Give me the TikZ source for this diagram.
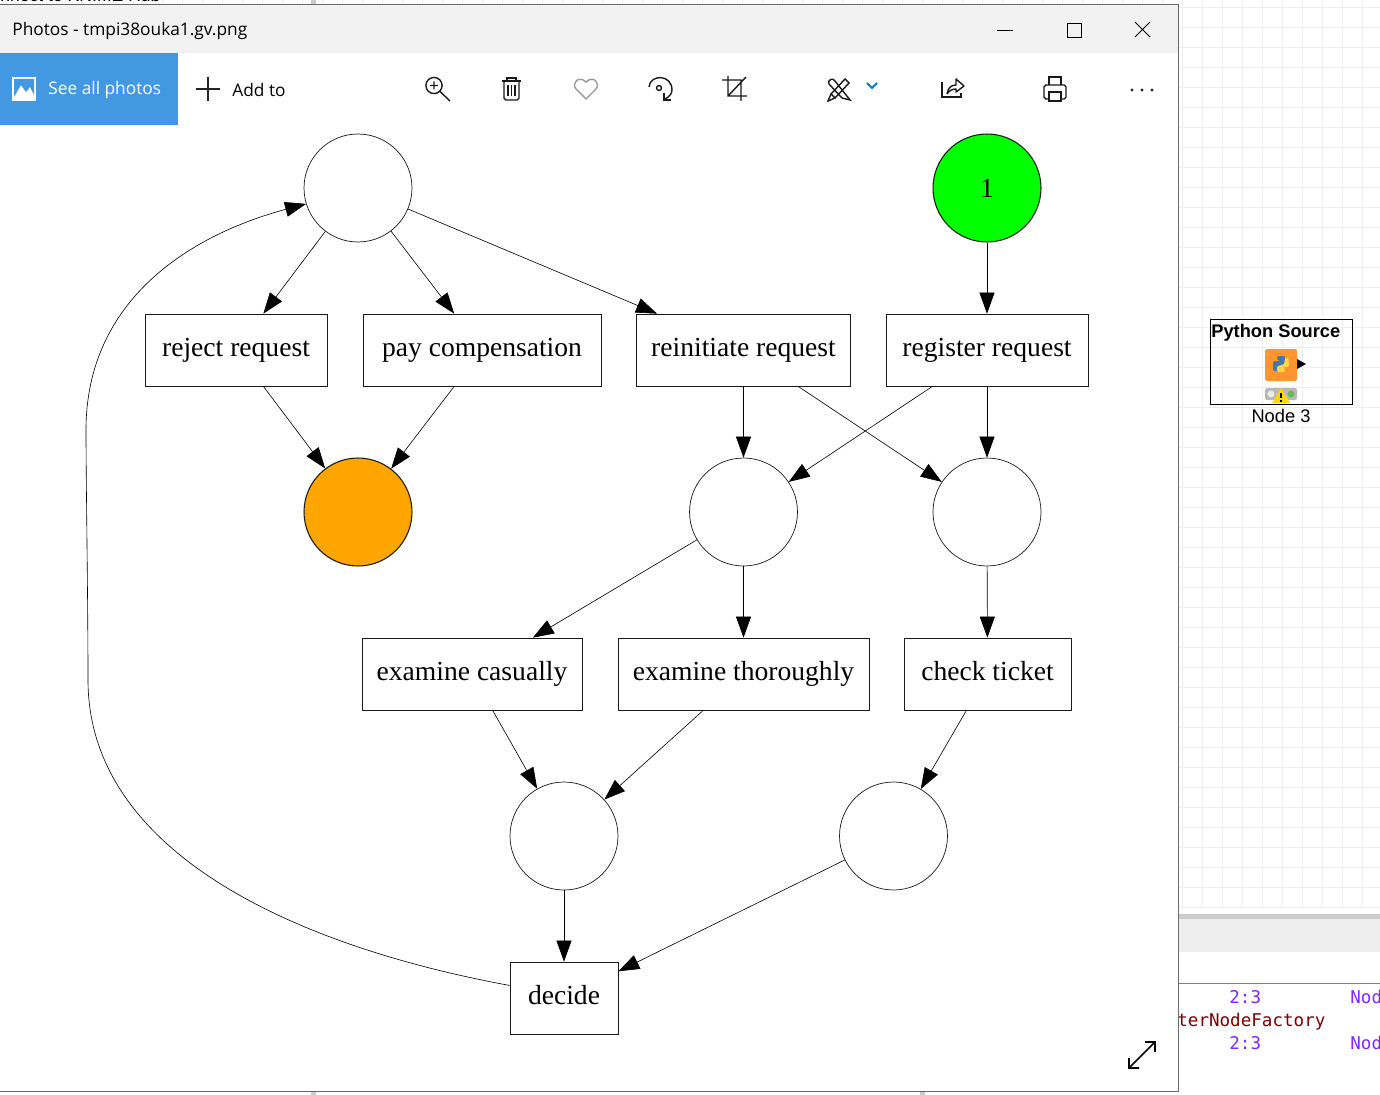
\documentclass[tikz,border=0pt]{standalone}
\usepackage{fontspec}
\setmainfont{Liberation Serif}
\newfontfamily\uifont{Open Sans}
\newfontfamily\knimefont{Liberation Sans}
\newfontfamily\logfont{DejaVu Sans Mono}
\usepackage{tikz}
\usetikzlibrary{arrows.meta,positioning}
\usepackage{xcolor}
\definecolor{photoblue}{RGB}{66,153,225}
\definecolor{titlegray}{RGB}{242,242,242}
\definecolor{framegray}{RGB}{105,105,105}
\definecolor{gridgray}{RGB}{238,238,238}
\definecolor{placeorange}{RGB}{255,165,0}
\definecolor{placegreen}{RGB}{0,255,0}
\definecolor{chevronblue}{RGB}{0,120,215}
\definecolor{iconorange}{RGB}{255,148,48}
\definecolor{pythonblue}{RGB}{62,122,175}
\definecolor{pythonyellow}{RGB}{255,214,70}
\definecolor{lightgreen}{RGB}{105,185,90}
\definecolor{warnyellow}{RGB}{255,215,0}
\definecolor{lognumber}{RGB}{128,40,255}
\definecolor{logclass}{RGB}{128,0,0}

\begin{document}
\begin{tikzpicture}[
  x=0.02cm,y=-0.02cm,
  place/.style={draw=black!90,circle,line width=0.4pt,minimum size=2.16cm,inner sep=0pt,
    font=\fontsize{15.7}{18}\selectfont},
  transition/.style={draw=black!90,rectangle,line width=0.4pt,inner sep=0pt,
    minimum height=1.44cm,text height=10.5pt,text depth=3.5pt,font=\fontsize{15.7}{18}\selectfont},
  edge/.style={-{Triangle[length=0.42cm,width=0.3cm]},line width=0.35pt},
  uitext/.style={font=\uifont\fontsize{9.85}{12}\selectfont,anchor=west,inner sep=0pt},
  logtext/.style={font=\logfont\fontsize{10}{12}\selectfont,anchor=west,inner sep=0pt},
  icon/.style={line width=0.8pt,black!90}
]
  \useasboundingbox (0,0) rectangle (1380,1095);
  \fill[white] (0,0) rectangle (1380,1095);

  \foreach \gx in {2,22,...,1362}
    \draw[gridgray,line width=0.5pt] (\gx,0) -- (\gx,907);
  \foreach \gy in {7,27,...,907}
    \draw[gridgray,line width=0.5pt] (1178,\gy) -- (1380,\gy);
  \fill[white] (0,1091) rectangle (1380,1095);
  \fill[black!20] (311,0) rectangle (316,4);
  \fill[black!20] (311,1091) rectangle (316,1095);
  \fill[black!20] (920,1091) rectangle (925,1095);
  \fill[black!20] (1178,914) rectangle (1380,919);
  \fill[black!7] (1178,919) rectangle (1380,952);
  \fill[white] (1178,952) rectangle (1380,1091);
  \draw[black!50,line width=0.5pt] (1178,983) -- (1380,983);

  \node[logtext,text=lognumber] (numa) at (1229,997) {2:3};
  \node[logtext,text=lognumber] (noda) at (1350,997) {Nod};
  \node[logtext,text=logclass] (factory) at (1177,1022) {terNodeFactory};
  \node[logtext,text=lognumber] (numb) at (1229,1043) {2:3};
  \node[logtext,text=lognumber] (nodb) at (1350,1043) {Nod};

  \node[uitext,font=\knimefont\fontsize{10}{12}\selectfont] (hub) at (0,-5) {nnect to KNIME Hub};

  \draw[black,line width=0.5pt] (1210.5,319.5) rectangle (1352.5,404.5);
  \node[font=\knimefont\bfseries\fontsize{10.4}{12}\selectfont,anchor=west,inner sep=0pt] (source) at (1211,333) {Python Source};
  \node[font=\knimefont\fontsize{10.4}{12}\selectfont,inner sep=0pt] (nodelabel) at (1281,416) {Node 3};
  \fill[iconorange,rounded corners=1pt] (1265,349) rectangle (1297,381);
  \fill[pythonblue,rounded corners=1.2pt] (1277,356) -- (1285,356) -- (1285,364) -- (1279,365)
    -- (1278,371) -- (1273,371) -- (1273,361) -- (1281,361) -- (1277,360) -- cycle;
  \fill[pythonyellow,rounded corners=1.2pt] (1285,372) -- (1277,372) -- (1277,366) -- (1284,365)
    -- (1285,358) -- (1289,358) -- (1289,367) -- (1281,367) -- (1285,368) -- cycle;
  \fill[black] (1297,359) -- (1306,364) -- (1297,369) -- cycle;
  \fill[black!28,rounded corners=1pt] (1265,388) rectangle (1297,400);
  \fill[black!8] (1271,394) circle (2pt);
  \fill[lightgreen] (1291,394) circle (2pt);
  \fill[warnyellow] (1281,388) -- (1290,403) -- (1272,403) -- cycle;
  \fill[black] (1280.2,392.5) rectangle (1281.8,398);
  \fill[black] (1280.2,399.5) rectangle (1281.8,401.5);

  \fill[white] (0,4) rectangle (1178,1091);
  \fill[titlegray] (0,5) rectangle (1178,53);
  \draw[framegray,line width=0.6pt] (0,4.5) -- (1178.5,4.5) -- (1178.5,1091.5) -- (0,1091.5);
  \fill[photoblue] (0,53) rectangle (178,125);

  \node[uitext] (title) at (12,31) {Photos - tmpi38ouka1.gv.png};
  \node[uitext,text=white] (seeall) at (48,90) {See all photos};
  \node[uitext] (addto) at (232,90) {Add to};

  \fill[white] (12,77) rectangle (36,101);
  \fill[photoblue] (14,97) -- (21,85) -- (26,92) -- (30,87) -- (34,95) -- (34,79) -- (14,79) -- cycle;
  \draw[black!85,line width=0.7pt] (196,89) -- (220,89) (208,77) -- (208,101);

  \draw[icon] (434,85.5) circle (4.6pt);
  \draw[icon] (440,91.5) -- (450,101) (430,85.5) -- (438,85.5) (434,81.5) -- (434,89.5);
  \draw[icon,rounded corners=1pt] (504,82) -- (504,100) -- (519,100) -- (519,82);
  \draw[icon] (502,81) -- (521,81) (507,81) -- (507,78) -- (516,78) -- (516,81);
  \draw[icon] (508,85) -- (508,96) (511.5,85) -- (511.5,96) (515,85) -- (515,96);
  \draw[black!40,line width=0.8pt] (586,99) -- (576,89) .. controls (571,83) and (579,75) .. (586,82)
    .. controls (593,75) and (601,83) .. (596,89) -- cycle;
  \draw[icon] (649,87) .. controls (650,74) and (672,74) .. (672,90) .. controls (672,94) and (669,97) .. (665,99);
  \draw[icon] (659,88) circle (1.4pt);
  \draw[icon] (664,93) -- (664,100) -- (671,100);
  \draw[icon] (722,80) -- (741,80) -- (741,101) (728,76) -- (728,96) -- (747,96) (728,96) -- (746,77);
  \draw[icon] (829,84) .. controls (827,80) and (833,77) .. (835,81) -- (850,100) -- (842,98) -- cycle;
  \draw[icon] (845,79) -- (849,83) -- (835,98) -- (831,94) -- cycle;
  \draw[icon] (831,94) -- (828,101) -- (835,98);
  \draw[chevronblue,line width=1.1pt] (867,83) -- (872,88) -- (877,83);
  \draw[icon] (942,82) -- (942,97) -- (961,97) -- (961,93);
  \draw[icon,line join=round] (947,94) .. controls (948,88) and (951,85) .. (956,85) -- (956,79) -- (964,86) -- (956,92)
    -- (956,89) .. controls (952,89) and (949,91) .. (947,94);
  \draw[icon,rounded corners=1pt] (1049,99) -- (1044,99) -- (1044,85) -- (1066,85) -- (1066,99) -- (1061,99);
  \draw[icon] (1049,85) -- (1049,77) -- (1061,77) -- (1061,85);
  \draw[icon] (1049,101) -- (1049,92) -- (1061,92) -- (1061,101) -- cycle;
  \foreach \dotx in {1132,1142,1152}
    \fill[black!85] (\dotx,90) circle (0.9pt);
  \draw[black,line width=0.5pt] (997,30) -- (1013,30);
  \draw[black,line width=0.5pt] (1067,23) rectangle (1081,37);
  \draw[black,line width=0.5pt] (1135,22) -- (1150,37) (1150,22) -- (1135,37);
  \draw[black,line width=0.9pt] (1129,1068) -- (1155,1042) (1145,1042) -- (1155,1042) -- (1155,1052)
    (1129,1058) -- (1129,1068) -- (1139,1068);

  \node[place] (start) at (358,188) {};
  \node[place,fill=placegreen,line width=0.6pt] (marked) at (987,188) {1};
  \node[transition,minimum width=3.64cm] (reject) at (236,350) {reject request};
  \node[transition,minimum width=4.76cm] (pay) at (482,350) {pay compensation};
  \node[transition,minimum width=4.28cm] (reinitiate) at (743.5,350) {reinitiate request};
  \node[transition,minimum width=4.04cm] (register) at (987,350) {register request};
  \node[place,fill=placeorange,line width=0.6pt] (finish) at (358,512) {};
  \node[place] (waitleft) at (743.5,512) {};
  \node[place] (waitright) at (987,512) {};
  \node[transition,minimum width=4.40cm] (casually) at (472,674) {examine casually};
  \node[transition,minimum width=5.02cm] (thoroughly) at (743.5,674) {examine thoroughly};
  \node[transition,minimum width=3.34cm] (ticket) at (987.5,674) {check ticket};
  \node[place] (examined) at (564,836) {};
  \node[place] (checked) at (893.5,836) {};
  \node[transition,minimum width=2.16cm] (decide) at (564,998) {decide};

  \draw[edge] (start) -- (reject);
  \draw[edge] (start) -- (pay);
  \draw[edge] (start) -- (reinitiate);
  \draw[edge] (marked) -- (register);
  \draw[edge] (reject) -- (finish);
  \draw[edge] (pay) -- (finish);
  \draw[edge] (reinitiate) -- (waitleft);
  \draw[edge] (reinitiate) -- (waitright);
  \draw[edge] (register) -- (waitleft);
  \draw[edge] (register) -- (waitright);
  \draw[edge] (waitleft) -- (casually);
  \draw[edge] (waitleft) -- (thoroughly);
  \draw[edge] (waitright) -- (ticket);
  \draw[edge] (casually) -- (examined);
  \draw[edge] (thoroughly) -- (examined);
  \draw[edge] (ticket) -- (checked);
  \draw[edge] (examined) -- (decide);
  \draw[edge] (checked) -- (decide);
  \draw[edge] (decide.167) .. controls (290,945) and (88,850) .. (88,680)
    .. controls (88,600) and (86,480) .. (86,430)
    .. controls (86,300) and (190,235) .. (start.197);
\end{tikzpicture}
\end{document}
